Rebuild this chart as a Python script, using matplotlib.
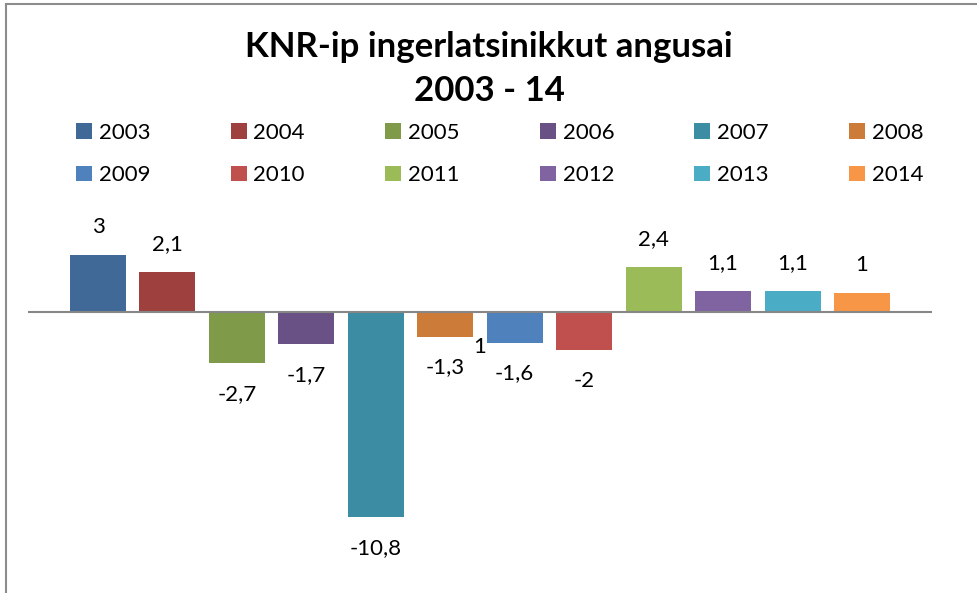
import matplotlib.pyplot as plt
from matplotlib.patches import Patch
from matplotlib.lines import Line2D

plt.rcParams['font.family'] = ['Lato', 'DejaVu Sans']

years = ['2003', '2004', '2005', '2006', '2007', '2008',
         '2009', '2010', '2011', '2012', '2013', '2014']
values = [3, 2.1, -2.7, -1.7, -10.8, -1.3, -1.6, -2, 2.4, 1.1, 1.1, 1]
colors = ['#416998', '#9E413E', '#7F9A48', '#695185', '#3C8DA3', '#CC7B38',
          '#4F81BD', '#C0504D', '#9BBB59', '#8064A2', '#4BACC6', '#F79646']
stray_label = '1'  # odd extra label sitting between 2008 and 2009

W, H = 978, 593
fig = plt.figure(figsize=(W / 100, H / 100), dpi=100)
ax = fig.add_axes([28 / W, 13 / H, 904 / W, 380 / H])

x = range(len(years))
bars = ax.bar(x, values, width=0.806, color=colors)
ax.axhline(0, color='#868686', lw=1.5, zorder=3)

for i, v in enumerate(values):
    txt = f'{v:g}'.replace('.', ',')
    off = 20 if v > 0 else -22
    ax.annotate(txt, (i, v), xytext=(0, off), textcoords='offset points',
                ha='center', va='center', fontsize=16)
ax.text(5.5, -1.84, stray_label, ha='center', va='center', fontsize=16)

ax.set_xlim(-1.008, len(years) - 1 + 1.008)
ax.set_ylim(-14.1, 5.9)
ax.axis('off')

fig.text(0.5, 1 - 47 / H, 'KNR-ip ingerlatsinikkut angusai', ha='center',
         va='center', fontsize=25, fontweight='bold')
fig.text(0.5, 1 - 91 / H, '2003 - 14', ha='center', va='center',
         fontsize=25, fontweight='bold')

# legend goes row by row in the original, matplotlib fills by column
handles = [Patch(facecolor=c, edgecolor='none') for c in colors]
order = [0, 6, 1, 7, 2, 8, 3, 9, 4, 10, 5, 11]
fig.legend([handles[k] for k in order], [years[k] for k in order],
           ncol=6, loc='upper left', bbox_to_anchor=(76 / W, 1 - 123 / H),
           frameon=False, fontsize=16, borderpad=0, borderaxespad=0,
           handlelength=0.72, handleheight=0.72, handletextpad=0.315,
           columnspacing=3.6, labelspacing=1.0)

# chart frame (only top and left edges visible)
fig.add_artist(Line2D([6 / W, 1], [1 - 4 / H, 1 - 4 / H], color='#8C8C8C', lw=1.5))
fig.add_artist(Line2D([6 / W, 6 / W], [0, 1 - 4 / H], color='#8C8C8C', lw=1.5))

fig.savefig('out.png', dpi=100)
